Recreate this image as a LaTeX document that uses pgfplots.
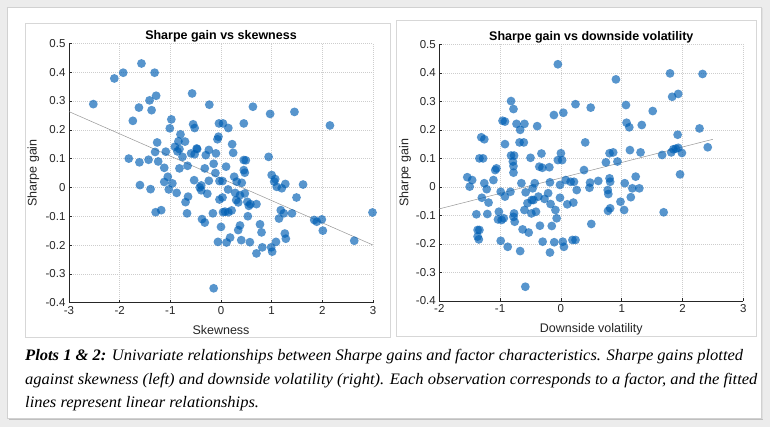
\documentclass[border=0pt]{standalone}
\usepackage{pgfplots}
\pgfplotsset{compat=1.18}
\usepackage{fontspec}
\setmainfont{Liberation Serif}
\newfontfamily\plotfont{Liberation Sans}
\definecolor{mblue}{RGB}{0,95,180}
\definecolor{axgray}{RGB}{38,38,38}
\definecolor{gridgray}{RGB}{205,205,205}
\definecolor{bggray}{RGB}{236,236,236}
\definecolor{fitgray}{RGB}{150,150,150}
\definecolor{panelgray}{RGB}{215,215,215}
\newsavebox{\capbox}

\pgfplotstableread{
x y
-2.52 0.289
-2.105 0.378
-1.93 0.398
-1.57 0.43
-1.31 0.398
-1.74 0.231
-1.62 0.277
-1.41 0.302
-1.28 0.318
-1.37 0.268
-1.82 0.100
-1.61 0.087
-1.43 0.096
-1.30 0.123
-1.26 0.156
-1.24 0.090
-1.60 0.008
-1.39 -0.006
-1.29 -0.086
-1.18 -0.079
-1.09 0.124
-1.12 0.068
-1.05 0.037
-1.12 0.019
-1.03 -0.007
-0.96 0.014
-0.98 0.236
-1.01 0.205
-0.875 -0.019
-0.80 0.184
-0.84 0.160
-0.91 0.141
-0.82 0.133
-0.76 0.106
-0.82 0.066
-0.71 0.159
-0.66 0.075
-0.65 -0.032
-0.70 -0.051
-0.67 -0.090
-0.57 0.326
-0.55 0.219
-0.52 0.206
-0.59 0.118
-0.47 0.133
-0.53 0.025
-0.39 0.007
-0.39 -0.010
-0.375 -0.110
-0.32 -0.122
-0.30 0.112
-0.24 0.130
-0.32 0.066
-0.24 0.023
-0.27 -0.022
-0.23 0.287
-0.16 -0.090
-0.145 0.082
-0.11 0.050
-0.10 0.118
-0.07 0.167
-0.05 0.176
-0.04 0.222
0.04 0.222
0.145 0.206
-0.03 -0.042
0.03 -0.035
-0.03 0.022
0.03 0.022
0.00 -0.137
-0.06 -0.189
-0.145 -0.350
0.10 0.072
0.11 -0.191
0.18 -0.174
0.04 -0.086
0.145 -0.086
0.21 -0.080
0.14 -0.007
0.22 0.150
0.24 0.120
0.26 0.037
0.28 -0.019
0.30 -0.044
0.34 -0.148
0.375 -0.132
0.40 -0.183
0.31 0.020
0.41 0.016
0.45 0.095
0.45 0.060
0.47 0.051
0.45 0.222
0.47 -0.021
0.52 -0.050
0.55 -0.064
0.53 -0.100
0.57 -0.190
0.63 0.280
0.70 -0.058
0.70 -0.229
0.77 -0.128
0.80 -0.156
0.815 -0.208
0.94 0.106
0.97 0.255
0.99 -0.208
1.01 -0.223
1.00 0.043
1.07 0.029
1.05 0.020
1.10 0.002
1.20 -0.003
1.27 0.012
1.085 -0.189
1.145 -0.108
1.18 -0.079
1.24 -0.090
1.26 -0.160
1.28 -0.178
1.40 -0.090
1.45 0.262
1.49 -0.035
1.62 0.010
1.84 -0.113
1.89 -0.119
1.99 -0.111
2.01 -0.150
2.15 0.215
2.63 -0.185
2.99 -0.087
0.375 -0.027
0.34 -0.052
0.08 -0.084
-0.86 0.125
-0.48 0.135
-0.52 0.115
0.49 0.094
0.58 -0.058
-0.42 0.000
}\skewdata

\pgfplotstableread{
x y
-1.54 0.034
-1.50 0.001
-1.46 0.024
-1.39 -0.096
-1.37 -0.151
-1.34 -0.151
-1.37 -0.174
-1.35 -0.184
-1.34 0.100
-1.28 0.100
-1.31 0.174
-1.26 0.167
-1.30 -0.038
-1.26 0.013
-1.22 -0.008
-1.21 -0.095
-1.19 -0.055
-1.11 0.024
-1.08 0.059
-1.06 0.065
-1.035 -0.114
-1.02 -0.087
-0.99 -0.017
-0.99 -0.189
-0.96 0.232
-0.92 0.229
-0.975 -0.116
-0.94 -0.110
-0.92 0.150
-0.92 -0.034
-0.875 -0.210
-0.83 -0.017
-0.82 0.301
-0.78 0.273
-0.82 0.110
-0.77 0.110
-0.79 0.089
-0.78 0.073
-0.78 0.050
-0.77 -0.093
-0.78 -0.105
-0.76 -0.122
-0.73 0.221
-0.67 0.200
-0.60 0.221
-0.68 0.156
-0.61 0.156
-0.65 0.013
-0.67 -0.225
-0.63 -0.149
-0.60 -0.081
-0.58 -0.019
-0.585 -0.350
-0.55 -0.057
-0.53 -0.160
-0.50 0.102
-0.485 -0.093
-0.465 -0.005
-0.48 -0.046
-0.45 -0.046
-0.43 0.013
-0.39 0.213
-0.41 -0.087
-0.37 -0.034
-0.355 0.071
-0.345 -0.136
-0.32 0.117
-0.305 0.067
-0.30 -0.192
-0.27 -0.042
-0.21 -0.022
-0.19 0.069
-0.18 -0.230
-0.17 -0.060
-0.18 0.016
-0.15 -0.137
-0.115 0.252
-0.11 -0.194
-0.09 -0.081
-0.07 -0.110
-0.05 0.430
-0.05 0.094
-0.015 -0.038
0.00 0.118
0.02 0.094
-0.015 0.007
0.03 -0.192
0.04 0.260
0.05 -0.210
0.08 0.024
0.105 -0.061
0.16 0.018
0.19 -0.186
0.24 0.290
0.215 0.018
0.205 -0.055
0.24 -0.186
0.26 -0.011
0.40 0.156
0.38 0.059
0.48 0.015
0.47 -0.003
0.49 0.278
0.50 -0.130
0.615 0.021
0.74 0.086
0.77 -0.011
0.78 -0.025
0.775 -0.084
0.81 -0.075
0.80 0.030
0.81 0.018
0.80 0.118
0.86 0.121
0.93 0.089
0.905 0.377
0.98 -0.052
1.05 0.013
1.04 -0.081
1.07 0.287
1.08 0.225
1.125 0.209
1.135 0.129
1.15 -0.036
1.175 -0.005
1.23 0.036
1.29 -0.005
1.31 0.121
1.33 0.217
1.51 0.266
1.665 0.112
1.69 -0.089
1.795 0.398
1.815 0.121
1.83 0.316
1.85 0.132
1.89 0.134
1.93 0.326
1.92 0.183
1.93 0.137
1.99 0.119
1.96 0.044
2.28 0.205
2.33 0.396
2.415 0.139
}\dvoldata

\pgfplotsset{
  matstyle/.style={
    scale only axis,
    width=304pt,
    enlargelimits=false,
    axis lines=left,
    axis line style={-, color=axgray, line width=0.5pt},
    tick align=inside,
    major tick length=3pt,
    tick style={color=axgray, line width=0.5pt},
    ymin=-0.4, ymax=0.5,
    ytick={-0.4,-0.3,-0.2,-0.1,0,0.1,0.2,0.3,0.4,0.5},
    yticklabels={-0.4,-0.3,-0.2,-0.1,0,0.1,0.2,0.3,0.4,0.5},
    grid=major,
    major grid style={color=gridgray, dash pattern=on 1pt off 1pt, line width=0.5pt},
    ticklabel style={font=\plotfont\fontsize{11.5}{13}\selectfont, color=axgray},
    label style={font=\plotfont\fontsize{12.5}{14}\selectfont, color=axgray},
    title style={font=\plotfont\bfseries\fontsize{12.5}{14}\selectfont, at={(0.5,1)}, anchor=base, yshift=-2.5pt},
    xlabel style={at={(0.5,0)}, anchor=base, yshift=-31.5pt},
    clip=false,
  },
  dots/.style={only marks, mark=*, mark size=4.4pt, mark options={fill=mblue, draw opacity=0, fill opacity=0.66}},
}

\begin{document}
\sbox{\capbox}{\fontsize{16}{20}\selectfont\itshape\textbf{Plots 1 \& 2:} Univariate relationships between Sharpe gains and factor characteristics. Sharpe gains plotted}%
\pgfmathsetmacro\capscale{718/\the\wd\capbox}%
\begin{tikzpicture}
% background
\fill[bggray] (0pt,0pt) rectangle (770pt,427pt);
\fill[black!25] (9pt,6.5pt) rectangle (763pt,418pt);
\fill[black!12] (8pt,7.5pt) rectangle (762.5pt,419pt);
\fill[white] (7pt,9pt) rectangle (761pt,420pt);
\draw[black!18, line width=0.5pt] (7pt,9pt) rectangle (761pt,420pt);
% panels
\draw[panelgray, line width=0.6pt] (25pt,90pt) rectangle (390pt,404pt);
\draw[panelgray, line width=0.6pt] (396pt,91pt) rectangle (756pt,407pt);

\begin{axis}[matstyle,
  at={(69pt,124.3pt)}, anchor=south west,
  height=259.4pt,
  xmin=-3, xmax=3,
  xtick={-3,-2,-1,0,1,2,3},
  xticklabels={-3,-2,-1,0,1,2,3},
  title={Sharpe gain vs skewness},
  xlabel={Skewness},
  ylabel={Sharpe gain},
  ylabel style={at={(axis description cs:-0.1174,0.5)}, anchor=center},
]
\addplot[dots] table[x=x,y=y] {\skewdata};
\addplot[fitgray, line width=0.5pt] coordinates {(-3,0.263) (3,-0.200)};
\end{axis}

\begin{axis}[matstyle,
  at={(439.3pt,126pt)}, anchor=south west,
  height=256.7pt,
  xmin=-2, xmax=3,
  xtick={-2,-1,0,1,2,3},
  xticklabels={-2,-1,0,1,2,3},
  title={Sharpe gain vs downside volatility},
  xlabel={Downside volatility},
  ylabel={Sharpe gain},
  ylabel style={at={(axis description cs:-0.112,0.5)}, anchor=center},
]
\addplot[dots] table[x=x,y=y] {\dvoldata};
\addplot[fitgray, line width=0.5pt] coordinates {(-2,-0.077) (2.5,0.167)};
\end{axis}

% caption
\node[anchor=base west, inner sep=0pt] at (25pt,66.3pt) {\scalebox{\capscale}[1]{\fontsize{16}{20}\selectfont\itshape\textbf{Plots 1 \& 2:} Univariate relationships between Sharpe gains and factor characteristics. Sharpe gains plotted}};
\node[anchor=base west, inner sep=0pt] at (25pt,42.7pt) {\scalebox{\capscale}[1]{\fontsize{16}{20}\selectfont\itshape against skewness (left) and downside volatility (right). Each observation corresponds to a factor, and the fitted}};
\node[anchor=base west, inner sep=0pt] at (25pt,19pt) {\scalebox{\capscale}[1]{\fontsize{16}{20}\selectfont\itshape lines represent linear relationships.}};
\end{tikzpicture}
\end{document}
